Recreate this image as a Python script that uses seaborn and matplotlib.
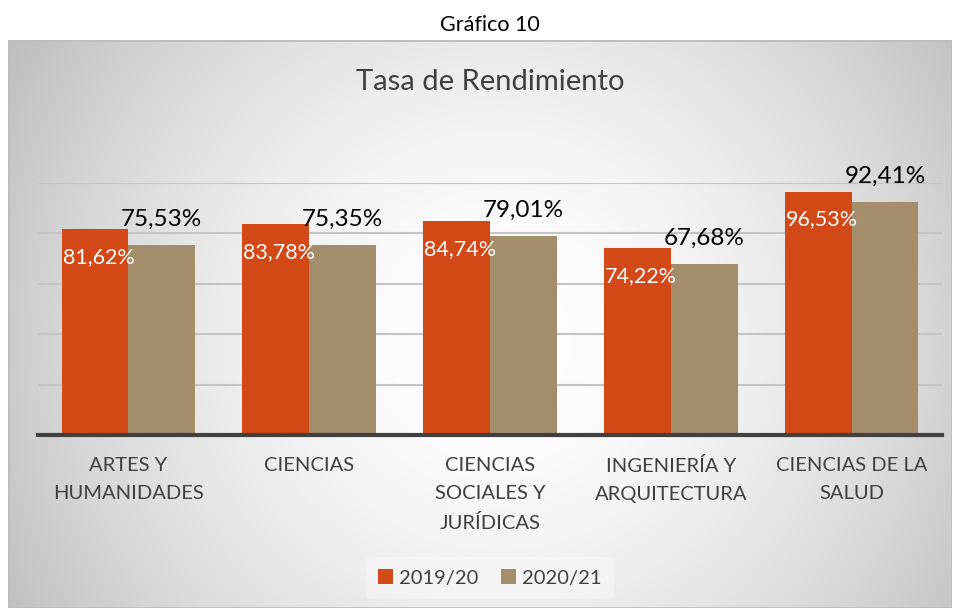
import numpy as np
import pandas as pd
import seaborn as sns
import matplotlib
matplotlib.use("Agg")
import matplotlib.pyplot as plt
from matplotlib.patches import Rectangle, Patch

# datos del gráfico
areas = ["ARTES Y\nHUMANIDADES", "CIENCIAS", "CIENCIAS\nSOCIALES Y\nJURÍDICAS",
         "INGENIERÍA Y\nARQUITECTURA", "CIENCIAS DE LA\nSALUD"]
cursos = ["2019/20", "2020/21"]
tasa_1920 = [81.62, 83.78, 84.74, 74.22, 96.53]
tasa_2021 = [75.53, 75.35, 79.01, 67.68, 92.41]
colores = ["#D24817", "#A38D6A"]

df = pd.DataFrame({
    "area": areas * 2,
    "curso": [cursos[0]] * len(areas) + [cursos[1]] * len(areas),
    "tasa": tasa_1920 + tasa_2021,
})

sns.set_theme(style="white")
plt.rcParams["font.family"] = ["Lato", "DejaVu Sans"]

W, H = 958, 608
fig = plt.figure(figsize=(W / 100, H / 100), dpi=100)
fig.patch.set_facecolor("white")

# fondo con degradado radial
bg = fig.add_axes([8 / W, 0, 944 / W, (H - 40) / H])
bg.set_axis_off()
yy, xx = np.mgrid[0:568, 0:944]
cx, cy = 490, 300
r = np.sqrt((xx - cx) ** 2 + (yy - cy) ** 2)
r = r / r.max()
val = 1 - 0.26 * r ** 1.7
bg.imshow(np.dstack([val, val, val]), aspect="auto", extent=(0, 944, 568, 0))
bg.add_patch(Rectangle((0, 0), 944, 568, fill=False, edgecolor="#bdbdbd", lw=2))
bg.set_xlim(0, 944)
bg.set_ylim(568, 0)

fig.text(490 / W, 1 - 25 / H, "Gráfico 10", ha="center", va="center",
         fontsize=15.5, color="black")
fig.text(490 / W, 1 - 82 / H, "Tasa de Rendimiento", ha="center", va="center",
         fontsize=21, color="#404040")

ax = fig.add_axes([38 / W, 1 - 435 / H, 904 / W, 252 / H])
ax.patch.set_alpha(0)
sns.barplot(data=df, x="area", y="tasa", hue="curso", palette=colores,
            width=0.74, saturation=1, ax=ax, legend=False, zorder=3,
            linewidth=0, edgecolor="none")
ax.set_ylim(0, 100)
ax.set_yticks([20, 40, 60, 80, 100])
ax.set_yticklabels([])
ax.yaxis.grid(True, color="#c4c4c4", lw=1.5, zorder=0)
ax.set_axisbelow(True)
for s in ["top", "left", "right"]:
    ax.spines[s].set_visible(False)
ax.spines["bottom"].set_color("#404040")
ax.spines["bottom"].set_linewidth(3)
ax.spines["bottom"].set_zorder(4)
ax.tick_params(axis="both", length=0)
ax.tick_params(axis="x", pad=16, labelsize=14.5, labelcolor="#404040")
for t in ax.get_xticklabels():
    t.set_linespacing(1.78)
ax.set_xlabel("")
ax.set_ylabel("")
ax.set_xlim(-0.5, len(areas) - 0.5)

for bar, v in zip(ax.containers[0], tasa_1920):
    xc = bar.get_x() + bar.get_width() / 2
    ax.text(xc + 0.02, v - 11, f"{v:.2f}%".replace(".", ","), ha="center",
            va="center", color="white", fontsize=15.5, zorder=5)
for bar, v in zip(ax.containers[1], tasa_2021):
    xc = bar.get_x() + bar.get_width() / 2
    ax.text(xc, v + 6, f"{v:.2f}%".replace(".", ","), ha="center",
            va="bottom", color="black", fontsize=17.5, zorder=5, clip_on=False)

handles = [Patch(facecolor=c, edgecolor="none") for c in colores]
leg = fig.legend(handles, cursos, loc="center", bbox_to_anchor=(490 / W, 1 - 578 / H),
                 ncol=2, frameon=True, fontsize=14.5, handlelength=0.75,
                 handleheight=0.75, handletextpad=0.3, columnspacing=1.1,
                 borderpad=0.6)
leg.get_frame().set_facecolor("white")
leg.get_frame().set_alpha(0.35)
leg.get_frame().set_edgecolor("none")
for t in leg.get_texts():
    t.set_color("#404040")

fig.savefig("out.png", dpi=100)
